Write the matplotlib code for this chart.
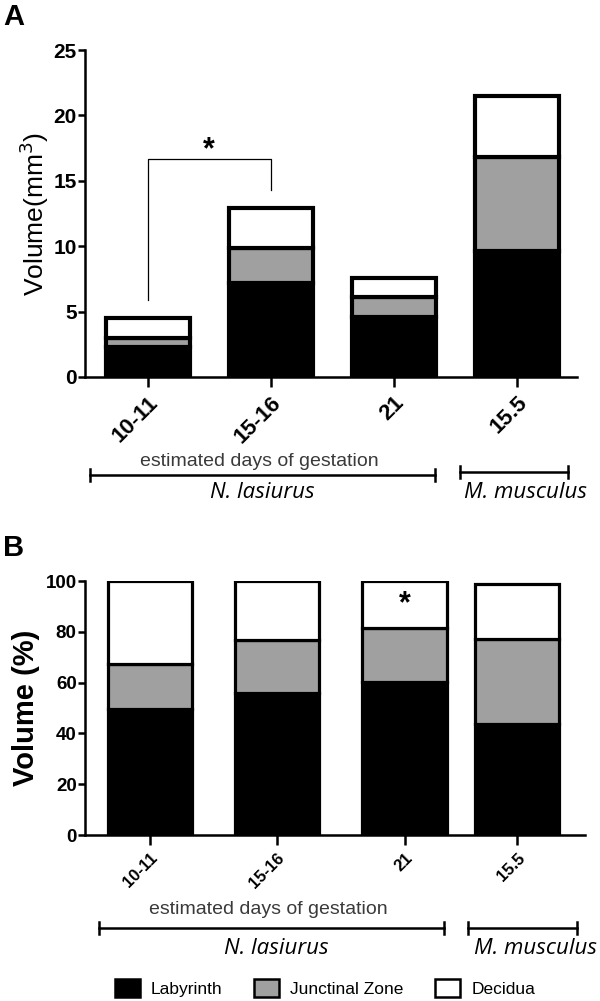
import numpy as np
from matplotlib import pyplot as plt
from matplotlib.lines import Line2D

plt.rcParams['font.family'] = ['Liberation Sans', 'DejaVu Sans']

# data
categories = ['10-11', '15-16', '21', '15.5']
layer_names = ['Labyrinth', 'Junctinal Zone', 'Decidua']
layer_colors = ['black', '#a0a0a0', 'white']

# panel A, volume in mm3
vol_labyrinth = [2.3, 7.2, 4.6, 9.6]
vol_junctional = [0.7, 2.7, 1.5, 7.2]
vol_decidua = [1.5, 3.0, 1.5, 4.7]

# panel B, volume in %
pct_labyrinth = [49.5, 56.0, 60.2, 43.7]
pct_junctional = [17.7, 20.6, 21.4, 33.3]
pct_decidua = [32.8, 23.4, 18.4, 22.0]

W, H = 600, 1001
ITALIC = ['Open Sans', 'DejaVu Sans']


def fx(px):
    return px / W


def fy(py):
    return 1 - py / H


def stacked(ax, x, layers, width, lw):
    bottom = np.zeros(len(x))
    for vals, col in zip(layers, layer_colors):
        ax.bar(x, vals, width, bottom=bottom, color=col, edgecolor='black',
               linewidth=lw, zorder=2)
        bottom += np.array(vals)


def style_axis(ax, ysize, xsize):
    for s in ['top', 'right']:
        ax.spines[s].set_visible(False)
    for s in ['left', 'bottom']:
        ax.spines[s].set_linewidth(1.8)
    ax.tick_params(axis='y', length=5, width=1.8, labelsize=ysize, pad=1)
    ax.tick_params(axis='x', length=7, width=1.8, labelsize=xsize, pad=4)
    for t in ax.get_yticklabels() + ax.get_xticklabels():
        t.set_fontweight('bold')
    for t in ax.get_xticklabels():
        t.set_rotation(45)
        t.set_ha('right')
        t.set_va('top')
        t.set_rotation_mode('anchor')


def group_bracket(fig, x0, x1, y, lw=1.8):
    fig.add_artist(Line2D([fx(x0), fx(x1)], [fy(y), fy(y)], color='black', lw=lw))
    for xx in (x0, x1):
        fig.add_artist(Line2D([fx(xx), fx(xx)], [fy(y - 6), fy(y + 6)], color='black', lw=lw))


fig = plt.figure(figsize=(6, 10.01), dpi=100)

# ---- panel A
axA = fig.add_axes([fx(85), fy(377), fx(577) - fx(85), fy(50) - fy(377)])
xa = np.arange(len(categories))
stacked(axA, xa, [vol_labyrinth, vol_junctional, vol_decidua], 0.68, 3)
axA.set_xlim(-0.51, 3.49)
axA.set_ylim(0, 25)
axA.set_yticks([0, 5, 10, 15, 20, 25])
axA.set_xticks(xa)
axA.set_xticklabels(categories)
axA.set_ylabel('Volume(mm$^3$)', fontsize=19, labelpad=2)
style_axis(axA, 15, 16)

# significance bracket between the first two bars
axA.plot([0, 0, 1, 1], [5.9, 16.7, 16.7, 14.3], color='black', lw=0.9, zorder=3)
axA.text(0.5, 17.3, '*', ha='center', va='center', fontsize=22, fontweight='bold')

fig.text(fx(259), fy(462), 'estimated days of gestation', ha='center', va='center',
         fontsize=14, color='#3a3a3a')
group_bracket(fig, 90, 435, 475)
fig.text(fx(262), fy(492), 'N. lasiurus', ha='center', va='center', fontsize=16,
         style='italic', family=ITALIC)
group_bracket(fig, 460, 568, 472)
fig.text(fx(525), fy(492), 'M. musculus', ha='center', va='center', fontsize=16,
         style='italic', family=ITALIC)
fig.text(fx(3), fy(17), 'A', ha='left', va='center', fontsize=21, fontweight='bold')

# ---- panel B
axB = fig.add_axes([fx(85), fy(835), fx(585) - fx(85), fy(581) - fy(835)])
xb = np.array([0, 0.99, 1.99, 2.87])
stacked(axB, xb, [pct_labyrinth, pct_junctional, pct_decidua], 0.66, 2.3)
axB.set_xlim(-0.51, 3.40)
axB.set_ylim(0, 100)
axB.set_yticks([0, 20, 40, 60, 80, 100])
axB.set_xticks(xb)
axB.set_xticklabels(categories)
axB.set_ylabel('Volume (%)', fontsize=21, fontweight='bold', labelpad=4)
style_axis(axB, 13.5, 12)
axB.text(xb[2], 91, '*', ha='center', va='center', fontsize=22, fontweight='bold')

fig.text(fx(268), fy(910), 'estimated days of gestation', ha='center', va='center',
         fontsize=14, color='#3a3a3a')
group_bracket(fig, 99, 444, 928)
fig.text(fx(276), fy(948), 'N. lasiurus', ha='center', va='center', fontsize=16,
         style='italic', family=ITALIC)
group_bracket(fig, 468, 577, 928)
fig.text(fx(536), fy(948), 'M. musculus', ha='center', va='center', fontsize=16,
         style='italic', family=ITALIC)
fig.text(fx(3), fy(548), 'B', ha='left', va='center', fontsize=21, fontweight='bold')

# legend
handles = [plt.Rectangle((0, 0), 1, 1, facecolor=c, edgecolor='black', lw=1.8)
           for c in layer_colors]
fig.legend(handles, layer_names, loc='center', bbox_to_anchor=(fx(325), fy(988)),
           ncol=3, frameon=False, handlelength=1.45, handleheight=1.2,
           columnspacing=1.8, handletextpad=0.65, fontsize=12.5)

plt.savefig('out.png', dpi=100)
